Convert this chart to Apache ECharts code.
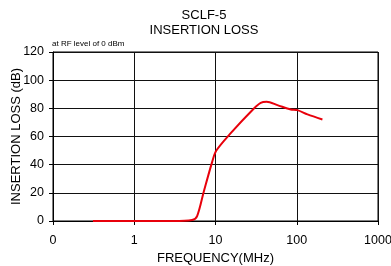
<!DOCTYPE html>
<html>
<head>
<meta charset="utf-8">
<script src="https://cdn.jsdelivr.net/npm/echarts@6/dist/echarts.min.js"></script>
<style>
  html, body { margin: 0; padding: 0; background: #fff; }
  #chart { width: 391px; height: 266px; }
</style>
</head>
<body>
<div id="chart"></div>
<script>
// frequency (MHz) and insertion loss (dB)
const freqs = [0.31, 1, 3, 5.15, 5.94, 7.17, 9.1, 10.2, 15.3, 29.7, 36, 42.7, 57.8, 84.4, 102, 135.6, 207];
const loss  = [0,    0, 0, 0.7,  3.5,  20.8, 42,  49.9, 62.2, 79.9, 83.9, 84.6, 82.3, 79.2, 78.7, 75.7, 72.1];
const yTicks = [0, 20, 40, 60, 80, 100, 120];

const font = "'Liberation Sans', Arial, sans-serif";
const chart = echarts.init(document.getElementById("chart"));

const option = {
  animation: false,
  title: [
    {
      text: "SCLF-5\nINSERTION LOSS",
      left: 204, top: 8, textAlign: "center", padding: 0,
      textStyle: { fontFamily: font, fontSize: 13, fontWeight: "normal", color: "#000", lineHeight: 15 }
    },
    {
      text: "at RF level of 0 dBm",
      left: 52, top: 40, padding: 0,
      textStyle: { fontFamily: font, fontSize: 8, fontWeight: "normal", color: "#000" }
    }
  ],
  grid: {
    left: 53, right: 13, top: 52, bottom: 45,
    containLabel: false, outerBoundsMode: "none",
    show: true, borderColor: "#000", borderWidth: 1
  },
  xAxis: {
    type: "log",
    logBase: 10,
    min: 0.1,
    max: 1000,
    name: "FREQUENCY(MHz)",
    nameLocation: "middle",
    nameGap: 31,
    nameMoveOverlap: false,
    nameTextStyle: { fontFamily: font, fontSize: 13, color: "#000" },
    axisLine: { lineStyle: { color: "#000", width: 1 } },
    axisTick: { show: true, length: 4, lineStyle: { color: "#000" } },
    minorTick: { show: false },
    splitLine: { show: true, lineStyle: { color: "#111", width: 1 } },
    axisLabel: {
      fontFamily: font, fontSize: 12.5, color: "#000", margin: 13,
      formatter: v => (v < 1 ? "0" : String(Math.round(v)))
    }
  },
  yAxis: {
    type: "value",
    min: 0,
    max: 120,
    interval: 20,
    name: "INSERTION LOSS (dB)",
    nameLocation: "middle",
    nameGap: 30,
    nameMoveOverlap: false,
    nameTextStyle: { fontFamily: font, fontSize: 13, color: "#000" },
    axisLine: { show: true, lineStyle: { color: "#000", width: 1 } },
    axisTick: { show: true, length: 4, lineStyle: { color: "#000" } },
    splitLine: { show: true, lineStyle: { color: "#111", width: 1 } },
    axisLabel: {
      fontFamily: font, fontSize: 12.5, color: "#000", margin: 9,
      formatter: v => (yTicks.includes(v) ? String(v) : "")
    }
  },
  series: [
    {
      type: "line",
      data: freqs.map((f, i) => [f, loss[i]]),
      smooth: 0.3,
      showSymbol: false,
      lineStyle: { color: "#e8000b", width: 2 }
    }
  ]
};

chart.setOption(option);
</script>
</body>
</html>
